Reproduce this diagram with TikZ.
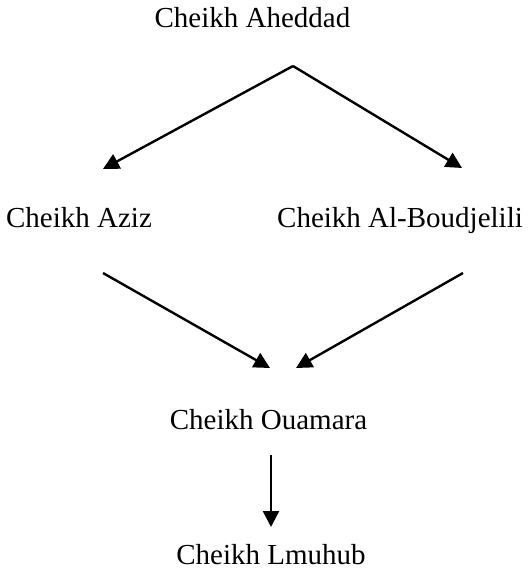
\documentclass[tikz,border=0pt]{standalone}
\usepackage{fontspec}
\setmainfont{Liberation Serif}
\usetikzlibrary{arrows.meta}

\begin{document}
\begin{tikzpicture}[
    x=0.5pt, y=-0.5pt,
    person/.style={inner sep=0pt, anchor=base, font=\fontsize{14.5}{17}\selectfont},
    ar/.style={line width=1.2pt, -{Triangle[length=8pt, width=8pt]}}
  ]
  \useasboundingbox (0,0) rectangle (529,569);
  % names
  \node[person] (ahed) at (252.5,27) {Cheikh Aheddad};
  \node[person] (aziz) at (79,227) {Cheikh Aziz};
  \node[person] (boud) at (400,227) {Cheikh Al-Boudjelili};
  \node[person] (ouam) at (268.5,429) {Cheikh Ouamara};
  \node[person] (lmuh) at (271,564) {Cheikh Lmuhub};
  % arrow ends
  \coordinate (top) at (293,66);
  \coordinate (azizin) at (103,169);
  \coordinate (boudin) at (462,168);
  \coordinate (azizout) at (103,273);
  \coordinate (boudout) at (463,273);
  \coordinate (ouamin1) at (270,368);
  \coordinate (ouamin2) at (296,368);
  \coordinate (ouamout) at (271,455);
  \coordinate (lmuhin) at (271,527);
  \draw[ar] (top) -- (azizin);
  \draw[ar] (top) -- (boudin);
  \draw[ar] (azizout) -- (ouamin1);
  \draw[ar] (boudout) -- (ouamin2);
  \draw[ar] (ouamout) -- (lmuhin);
\end{tikzpicture}
\end{document}
